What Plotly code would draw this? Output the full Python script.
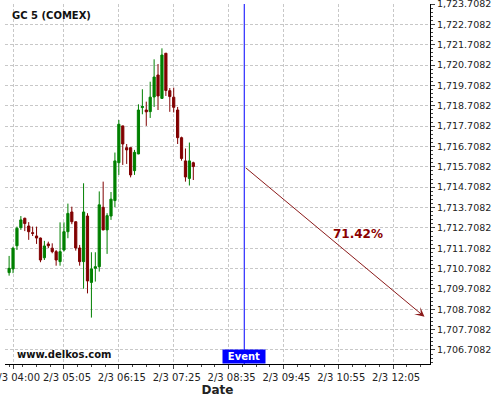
import plotly.graph_objects as go
import pandas as pd

# ---- data ----
start_time = "2023-02-03 03:55"
n_candles = 48
opens = [1710.51, 1710.69, 1711.83, 1712.72, 1713.18, 1712.80, 1712.47, 1712.31, 1712.21, 1711.24,
         1711.92, 1711.71, 1711.54, 1711.05, 1711.62, 1712.52, 1713.49, 1713.01, 1711.72, 1711.05,
         1713.29, 1710.03, 1710.72, 1710.80, 1713.72, 1712.61, 1713.29, 1714.05, 1715.91, 1717.72,
         1716.65, 1716.65, 1715.52, 1716.34, 1718.62, 1718.50, 1718.42, 1719.14, 1720.22, 1719.07,
         1721.29, 1719.45, 1719.13, 1718.50, 1717.14, 1716.00, 1715.14, 1715.91]
highs = [1711.33, 1711.78, 1712.77, 1713.29, 1713.21, 1712.99, 1712.77, 1712.77, 1712.23, 1712.07,
         1712.03, 1711.95, 1711.62, 1712.98, 1712.98, 1713.90, 1713.75, 1713.02, 1711.87, 1714.90,
         1713.43, 1711.51, 1711.51, 1714.50, 1714.98, 1713.43, 1714.47, 1716.41, 1718.01, 1717.73,
         1716.83, 1716.66, 1716.54, 1718.78, 1719.52, 1718.91, 1719.89, 1720.99, 1720.76, 1721.53,
         1721.30, 1719.58, 1719.60, 1718.65, 1717.19, 1716.61, 1716.90, 1715.96]
lows = [1710.36, 1710.48, 1711.62, 1712.61, 1712.55, 1712.12, 1712.31, 1711.92, 1711.02, 1711.13,
        1711.71, 1711.46, 1710.85, 1710.85, 1711.55, 1712.20, 1712.89, 1711.59, 1710.85, 1709.72,
        1709.49, 1708.30, 1710.07, 1710.56, 1712.59, 1711.43, 1713.10, 1713.72, 1715.31, 1715.80,
        1715.85, 1715.19, 1715.31, 1716.33, 1718.29, 1717.72, 1718.11, 1718.65, 1718.50, 1719.06,
        1719.19, 1718.41, 1718.38, 1716.83, 1716.01, 1714.98, 1714.79, 1715.06]
closes = [1710.72, 1711.71, 1712.69, 1713.10, 1712.92, 1712.52, 1712.44, 1712.21, 1711.13, 1711.82,
          1711.83, 1711.54, 1711.13, 1711.54, 1712.52, 1713.42, 1713.01, 1711.72, 1711.05, 1713.49,
          1710.10, 1710.69, 1710.80, 1713.84, 1712.61, 1713.31, 1714.12, 1716.00, 1717.80, 1716.83,
          1716.54, 1715.31, 1716.42, 1718.50, 1718.67, 1718.41, 1719.13, 1720.12, 1719.19, 1721.20,
          1719.46, 1719.16, 1718.63, 1717.14, 1716.12, 1715.21, 1716.00, 1715.72]

event_time = "2023-02-03 08:55"
target_time = "2023-02-03 12:45"
target_value = 1708.34
probability_label = "71.42%"
label_time = "2023-02-03 11:20"
label_value = 1712.41

x_tickvals = ["2023-02-03 04:00", "2023-02-03 05:05", "2023-02-03 06:15", "2023-02-03 07:25",
              "2023-02-03 08:35", "2023-02-03 09:45", "2023-02-03 10:55", "2023-02-03 12:05"]
x_ticktext = ["2/3 04:00", "2/3 05:05", "2/3 06:15", "2/3 07:25",
              "2/3 08:35", "2/3 09:45", "2/3 10:55", "2/3 12:05"]
x_range = ["2023-02-03 03:49:45", "2023-02-03 12:52"]
y_range = [1706.02, 1723.7082]
y_tick0 = 1706.7082

times = pd.date_range(start_time, periods=n_candles, freq="5min")

FONT = "DejaVu Sans"
GREEN = "#008000"
RED = "#800000"
GRID = "#c8c8c8"
GRIDDASH = "3px,2px"

fig = go.Figure()
fig.add_trace(go.Candlestick(
    x=times, open=opens, high=highs, low=lows, close=closes,
    increasing=dict(line=dict(color=GREEN, width=1), fillcolor=GREEN),
    decreasing=dict(line=dict(color=RED, width=1), fillcolor=RED),
    whiskerwidth=0, showlegend=False,
))

# event line
fig.add_shape(type="line", x0=event_time, x1=event_time, xref="x", yref="paper",
              y0=0, y1=1, line=dict(color="#0000ff", width=1))

# forecast arrow
fig.add_annotation(x=target_time, y=target_value, ax=event_time, ay=closes[-1],
                   xref="x", yref="y", axref="x", ayref="y",
                   showarrow=True, arrowhead=3, arrowsize=1.6, arrowwidth=1,
                   arrowcolor="#8b1a1a", text="")

fig.add_annotation(x=label_time, y=label_value, xref="x", yref="y", showarrow=False,
                   text="<b>" + probability_label + "</b>",
                   font=dict(family=FONT, size=12, color="#8b0000"))

# event label
fig.add_annotation(x=event_time, y=0, xref="x", yref="paper", yanchor="bottom",
                   showarrow=False, text="<b>Event</b>", bgcolor="#0000ff",
                   font=dict(family=FONT, size=10, color="white"),
                   borderpad=1, width=40, height=11)

W, H = 500, 400
ml, mr, mt, mb = 5, 70, 4, 36
pw, ph = W - ml - mr, H - mt - mb


def px_to_paper(px, py):
    return (px - ml) / pw, 1 - (py - mt) / ph


gx, gy = px_to_paper(10, 15)
fig.add_annotation(x=gx, y=gy, xref="paper", yref="paper", showarrow=False,
                   text="<b>GC 5 (COMEX)</b>", xanchor="left", yanchor="middle",
                   font=dict(family=FONT, size=10, color="#111111"))
wx, wy = px_to_paper(15, 354)
fig.add_annotation(x=wx, y=wy, xref="paper", yref="paper", showarrow=False,
                   text="<b>www.delkos.com</b>", xanchor="left", yanchor="middle",
                   font=dict(family=FONT, size=10, color="#111111"))

fig.update_layout(
    width=W, height=H,
    margin=dict(l=ml, r=mr, t=mt, b=mb, autoexpand=False),
    paper_bgcolor="white", plot_bgcolor="white",
    font=dict(family=FONT, size=10, color="#222222"),
    showlegend=False,
    boxgap=0.2,
    xaxis=dict(
        type="date", range=x_range, rangeslider=dict(visible=False), automargin=False,
        tickmode="array", tickvals=x_tickvals, ticktext=x_ticktext,
        ticklabeloverflow="allow", tickangle=0, ticklabelshift=3,
        ticks="outside", ticklen=4, tickcolor="#444",
        showline=True, linecolor="black", linewidth=1,
        showgrid=True, gridcolor=GRID, griddash=GRIDDASH, gridwidth=1,
        zeroline=False,
        tickfont=dict(family=FONT, size=10, color="#222222"),
        minor=dict(dtick=70 * 60 * 1000 / 4, tick0=x_tickvals[1], ticks="outside", ticklen=2,
                   tickcolor="#444", showgrid=False),
        title=dict(text="<b>Date</b>", font=dict(family=FONT, size=12, color="#222222"), standoff=3),
    ),
    yaxis=dict(
        side="right", range=y_range, tick0=y_tick0, dtick=1, tickformat=",.4f", automargin=False,
        ticklabeloverflow="allow",
        ticks="outside", ticklen=4, tickcolor="#444",
        showline=True, linecolor="black", linewidth=1,
        showgrid=True, gridcolor=GRID, griddash=GRIDDASH, gridwidth=1,
        zeroline=False,
        tickfont=dict(family=FONT, size=9.5, color="#222222"),
        minor=dict(dtick=0.2, tick0=y_tick0, ticks="outside", ticklen=2, tickcolor="#444", showgrid=False),
    ),
)

fig.write_html("out.html", config={"displayModeBar": False},
               post_script="document.body.style.margin='0px';document.body.style.overflow='hidden';")
